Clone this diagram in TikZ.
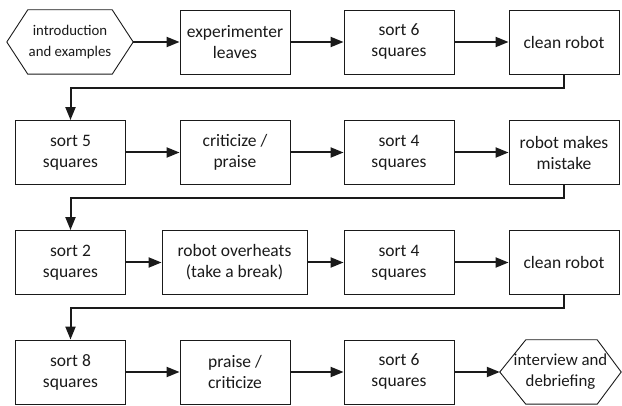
\documentclass[tikz,border=0pt]{standalone}
\usepackage{fontspec}
\setmainfont{Carlito}
\usetikzlibrary{arrows.meta,calc}
\definecolor{ink}{HTML}{1A1A1A}
\tikzset{
  stepbox/.style={draw=ink, line width=0.9pt, rectangle, minimum width=110pt, minimum height=64pt,
    inner sep=0pt, align=center, text=ink, font=\fontsize{17.5}{21}\selectfont},
  hexnode/.style={rectangle, minimum height=64pt, inner sep=0pt, align=center, text=ink},
  hexline/.style={draw=ink, line width=0.9pt},
  flow/.style={draw=ink, line width=2pt, -{Triangle[length=13pt,width=10pt]}},
}
\begin{document}
\begin{tikzpicture}[x=1pt,y=1pt]
\useasboundingbox (0,0) rectangle (622,-406);
% row 1
\node[hexnode, minimum width=126pt, font=\fontsize{14.8}{21.5}\selectfont] (h1) at (70,-42) {introduction\\and examples};
\draw[hexline] (h1.west) -- ($(h1.north west)+(21,0)$) -- ($(h1.north east)+(-21,0)$) -- (h1.east)
  -- ($(h1.south east)+(-21,0)$) -- ($(h1.south west)+(21,0)$) -- cycle;
\node[stepbox] (b12) at (235,-42) {experimenter\\leaves};
\node[stepbox] (b13) at (399,-42) {sort 6\\squares};
\node[stepbox] (b14) at (564,-42) {clean robot};
% row 2
\node[stepbox] (b21) at (70.5,-152.5) {sort 5\\squares};
\node[stepbox] (b22) at (235,-152.5) {criticize /\\praise};
\node[stepbox] (b23) at (399,-152.5) {sort 4\\squares};
\node[stepbox] (b24) at (564,-152.5) {robot makes\\mistake};
% row 3
\node[stepbox] (b31) at (70.5,-262.5) {sort 2\\squares};
\node[stepbox, minimum width=145pt] (b32) at (234.5,-262.5) {robot overheats\\(take a break)};
\node[stepbox] (b33) at (399,-262.5) {sort 4\\squares};
\node[stepbox] (b34) at (564,-262.5) {clean robot};
% row 4
\node[stepbox] (b41) at (70.5,-372) {sort 8\\squares};
\node[stepbox] (b42) at (235,-372) {praise /\\criticize};
\node[stepbox] (b43) at (399,-372) {sort 6\\squares};
\node[hexnode, minimum width=121pt, font=\fontsize{16.8}{21}\selectfont] (h4) at (560.5,-372) {interview and\\debriefing};
\draw[hexline] (h4.west) -- ($(h4.north west)+(26,0)$) -- ($(h4.north east)+(-24,0)$) -- (h4.east)
  -- ($(h4.south east)+(-24,0)$) -- ($(h4.south west)+(26,0)$) -- cycle;
% arrows
\draw[flow] (h1.east) -- (b12.west);
\draw[flow] (b12) -- (b13);
\draw[flow] (b13) -- (b14);
\draw[flow] (b14.south) -- ++(0,-14) -| (b21.north);
\draw[flow] (b21) -- (b22);
\draw[flow] (b22) -- (b23);
\draw[flow] (b23) -- (b24);
\draw[flow] (b24.south) -- ++(0,-13.5) -| (b31.north);
\draw[flow] (b31) -- (b32);
\draw[flow] (b32) -- (b33);
\draw[flow] (b33) -- (b34);
\draw[flow] (b34.south) -- ++(0,-13.5) -| (b41.north);
\draw[flow] (b41) -- (b42);
\draw[flow] (b42) -- (b43);
\draw[flow] (b43.east) -- (h4.west);
\end{tikzpicture}
\end{document}
